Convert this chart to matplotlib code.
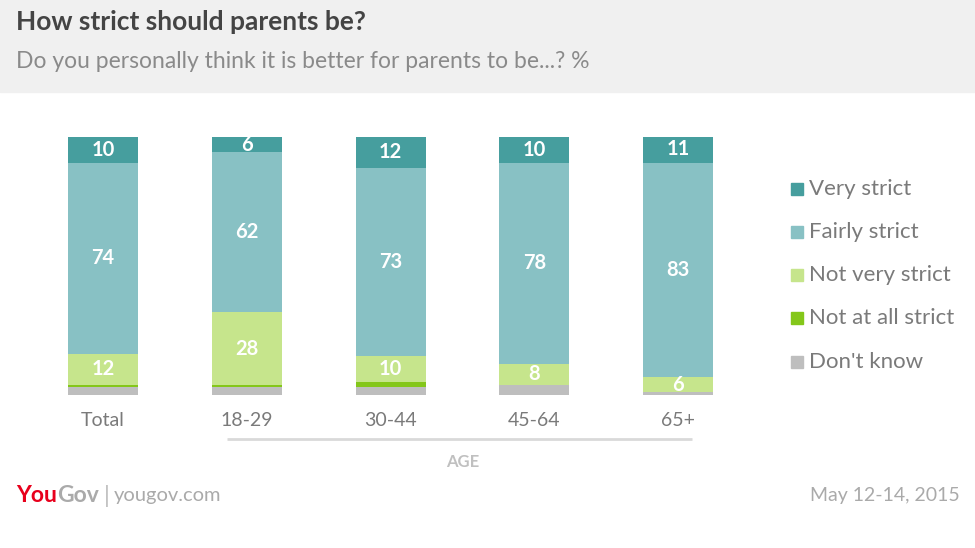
import matplotlib.pyplot as plt
import numpy as np

groups = ['Total', '18-29', '30-44', '45-64', '65+']
series = ['Very strict', 'Fairly strict', 'Not very strict', 'Not at all strict', "Don't know"]
very_strict = [10, 6, 12, 10, 11]
fairly_strict = [74, 62, 73, 78, 83]
not_very = [12, 28, 10, 8, 6]
not_at_all = [1, 1, 2, 0, 0]
dont_know = [3, 3, 3, 4, 1]

colors = ['#469e9e', '#88c1c4', '#c6e58c', '#84c71a', '#bebebe']
# stacked bottom -> top
stack = [dont_know, not_at_all, not_very, fairly_strict, very_strict]
stack_colors = [colors[4], colors[3], colors[2], colors[1], colors[0]]
labelled = [False, False, True, True, True]

plt.rcParams['font.family'] = ['Lato', 'DejaVu Sans']

W, H = 975, 548
fig = plt.figure(figsize=(W / 100, H / 100), dpi=100)

# header band
fig.patches.append(plt.Rectangle((0, 1 - 92 / H), 1, 92 / H, transform=fig.transFigure,
                                 color='#f0f0f0', zorder=0))
fig.text(16 / W, 1 - 22 / H, 'How strict should parents be?', fontsize=19, fontweight='bold',
         color='#444444', va='center', ha='left')
fig.text(16 / W, 1 - 61 / H, 'Do you personally think it is better for parents to be...? %',
         fontsize=16.5, color='#8a8a8a', va='center', ha='left')

# bars axes
unit = 143.75
x0 = 103
ax = fig.add_axes([0, 1 - 395 / H, 1, (395 - 137) / H])
ax.set_xlim(-x0 / unit, (W - x0) / unit)
ax.set_ylim(0, 100)
ax.axis('off')

x = np.arange(len(groups))
bottom = np.zeros(len(groups))
for vals, c, lab in zip(stack, stack_colors, labelled):
    vals = np.array(vals, dtype=float)
    ax.bar(x, vals, bottom=bottom, width=70 / unit, color=c, linewidth=0)
    if lab:
        for xi, b, v in zip(x, bottom, vals):
            ax.text(xi, b + v / 2, f'{int(v)}', ha='center', va='center', color='white',
                    fontsize=14.5, fontweight='bold')
    bottom += vals

# category labels
for xi, g in zip(x, groups):
    ax.text(xi, -10, g, ha='center', va='center', fontsize=14, color='#7a7a7a', clip_on=False)

# age line
ax.plot([(227 - x0) / unit, (692 - x0) / unit], [-17, -17], color='#d9d9d9', lw=2,
        clip_on=False, solid_capstyle='butt')
fig.text(463 / W, 1 - 462 / H, 'AGE', fontsize=12, fontweight='bold', color='#c0c0c0',
         ha='center', va='center')

# legend
leg_y = [189, 232, 275, 318, 362]
for name, c, yy in zip(series, colors, leg_y):
    fig.patches.append(plt.Rectangle((791 / W, 1 - (yy + 6) / H), 12 / W, 12 / H,
                                     transform=fig.transFigure, color=c))
    fig.text(809 / W, 1 - yy / H, name, fontsize=16, color='#7a7a7a', va='center', ha='left')

# footer
t = fig.text(16 / W, 1 - 496 / H, 'You', fontsize=16.5, fontweight='bold', color='#e8001c',
             va='center', ha='left')
fig.canvas.draw()
bb = t.get_window_extent()
fig.text(bb.x1 / W, 1 - 496 / H, 'Gov', fontsize=16.5, fontweight='bold', color='#aaaaaa',
         va='center', ha='left')
fig.text(104 / W, 1 - 496 / H, '|', fontsize=17, color='#bbbbbb', va='center', ha='left')
fig.text(114 / W, 1 - 496 / H, 'yougov.com', fontsize=14.5, color='#aaaaaa', va='center', ha='left')
fig.text(960 / W, 1 - 496 / H, 'May 12-14, 2015', fontsize=14, color='#aaaaaa', va='center',
         ha='right')

fig.savefig('out.png', dpi=100)
